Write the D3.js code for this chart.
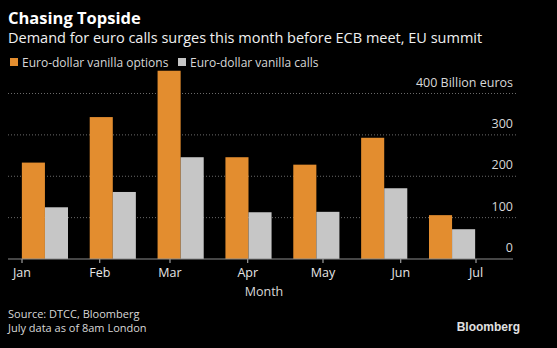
<!DOCTYPE html>
<html lang="en">
<head>
    <meta charset="utf-8">
    <title>Chasing Topside</title>
    <script src="https://d3js.org/d3.v7.min.js"></script>
    <style>
        body {
            margin: 0;
            background: #000;
            font-family: "Open Sans", "Noto Sans", sans-serif;
        }
        svg text {
            fill: #e6e6e6;
        }
        .grid line {
            stroke: #6a6a6a;
            stroke-dasharray: 1, 2;
        }
    </style>
</head>
<body>
<script>

    var w = 557;
    var h = 348;

    var months = ["Jan", "Feb", "Mar", "Apr", "May", "Jun", "Jul"];
    var options = [233, 343, 455, 246, 228, 293, 106]; // billion euros
    var calls = [125, 162, 246, 113, 114, 171, 72];
    var yTicks = [0, 100, 200, 300, 400];
    var series = ["Euro-dollar vanilla options", "Euro-dollar vanilla calls"];
    var colors = ["#e38d2f", "#c6c6c6"];

    var svg = d3.select("body")
        .append("svg")
        .attr("width", w)
        .attr("height", h);

    //scales
    var xBand = d3.scaleBand()
        .domain(months)
        .range([11, 486])
        .paddingInner(0.32)
        .paddingOuter(0.16);

    var xSub = d3.scaleBand()
        .domain([0, 1])
        .range([0, xBand.bandwidth()]);

    // month ticks sit on the first day of each month
    var xTime = d3.scaleTime()
        .domain([new Date(2019, 0, 1), new Date(2019, 6, 1)])
        .range([21.5, 475.5]);

    var yScale = d3.scaleLinear()
        .domain([0, 400])
        .range([259, 93.5]);

    //titles
    svg.append("text")
        .attr("x", 8)
        .attr("y", 24)
        .style("font-size", "16.5px")
        .style("font-weight", "bold")
        .style("fill", "#fff")
        .text("Chasing Topside");

    svg.append("text")
        .attr("x", 8)
        .attr("y", 43)
        .style("font-size", "14.5px")
        .style("fill", "#f0f0f0")
        .text("Demand for euro calls surges this month before ECB meet, EU summit");

    //legend
    var legendX = [10, 178];
    var legend = svg.selectAll(".legend")
        .data(series)
        .enter()
        .append("g")
        .attr("class", "legend")
        .attr("transform", function(d, i) { return "translate(" + legendX[i] + ",58)"; });

    legend.append("rect")
        .attr("width", 8)
        .attr("height", 8)
        .attr("fill", function(d, i) { return colors[i]; });

    legend.append("text")
        .attr("x", 12)
        .attr("y", 8.5)
        .style("font-size", "12px")
        .style("fill", "#d8d8d8")
        .text(function(d) { return d; });

    //gridlines
    svg.append("g")
        .attr("class", "grid")
        .selectAll("line")
        .data(yTicks.slice(1))
        .enter()
        .append("line")
        .attr("x1", 8)
        .attr("x2", 516)
        .attr("y1", function(d) { return yScale(d); })
        .attr("y2", function(d) { return yScale(d); });

    //y labels above each gridline
    svg.append("g")
        .selectAll("text")
        .data(yTicks)
        .enter()
        .append("text")
        .attr("x", 513)
        .attr("y", function(d) { return yScale(d) - 7; })
        .attr("text-anchor", "end")
        .style("font-size", "12.5px")
        .style("fill", "#d8d8d8")
        .text(function(d) { return d === 400 ? d + " Billion euros" : d; });

    //bars
    var groups = svg.selectAll(".month")
        .data(months)
        .enter()
        .append("g")
        .attr("class", "month")
        .attr("transform", function(d) { return "translate(" + xBand(d) + ",0)"; });

    groups.selectAll("rect")
        .data(function(d, i) { return [options[i], calls[i]]; })
        .enter()
        .append("rect")
        .attr("x", function(d, j) { return xSub(j); })
        .attr("y", function(d) { return yScale(d); })
        .attr("width", xSub.bandwidth())
        .attr("height", function(d) { return yScale(0) - yScale(d); })
        .attr("fill", function(d, j) { return colors[j]; });

    //x axis
    var xAxis = d3.axisBottom(xTime)
        .ticks(d3.timeMonth.every(1))
        .tickFormat(d3.timeFormat("%b"))
        .tickSize(4)
        .tickPadding(5);

    var gx = svg.append("g")
        .attr("transform", "translate(0," + yScale(0) + ")")
        .call(xAxis);

    gx.select(".domain").remove();
    gx.selectAll(".tick line").attr("stroke", "#bbb");
    gx.selectAll(".tick text")
        .style("font-size", "12.5px")
        .style("font-family", "'Open Sans', 'Noto Sans', sans-serif")
        .attr("fill", "#d8d8d8");

    svg.append("line")
        .attr("x1", 8)
        .attr("x2", 513)
        .attr("y1", yScale(0))
        .attr("y2", yScale(0))
        .attr("stroke", "#8c8c8c");

    svg.append("text")
        .attr("x", 264)
        .attr("y", 296)
        .attr("text-anchor", "middle")
        .style("font-size", "12.5px")
        .style("fill", "#d8d8d8")
        .text("Month");

    //footnotes
    svg.append("text")
        .attr("x", 8)
        .attr("y", 318)
        .style("font-size", "11px")
        .style("fill", "#d8d8d8")
        .text("Source: DTCC, Bloomberg");

    svg.append("text")
        .attr("x", 8)
        .attr("y", 332)
        .style("font-size", "11px")
        .style("fill", "#d8d8d8")
        .text("July data as of 8am London");

    svg.append("text")
        .attr("x", 520)
        .attr("y", 331)
        .attr("text-anchor", "end")
        .style("font-size", "12px")
        .style("font-weight", "bold")
        .style("font-family", "'Liberation Sans', Arial, sans-serif")
        .style("fill", "#e0e0e0")
        .text("Bloomberg");
</script>
</body>
</html>
